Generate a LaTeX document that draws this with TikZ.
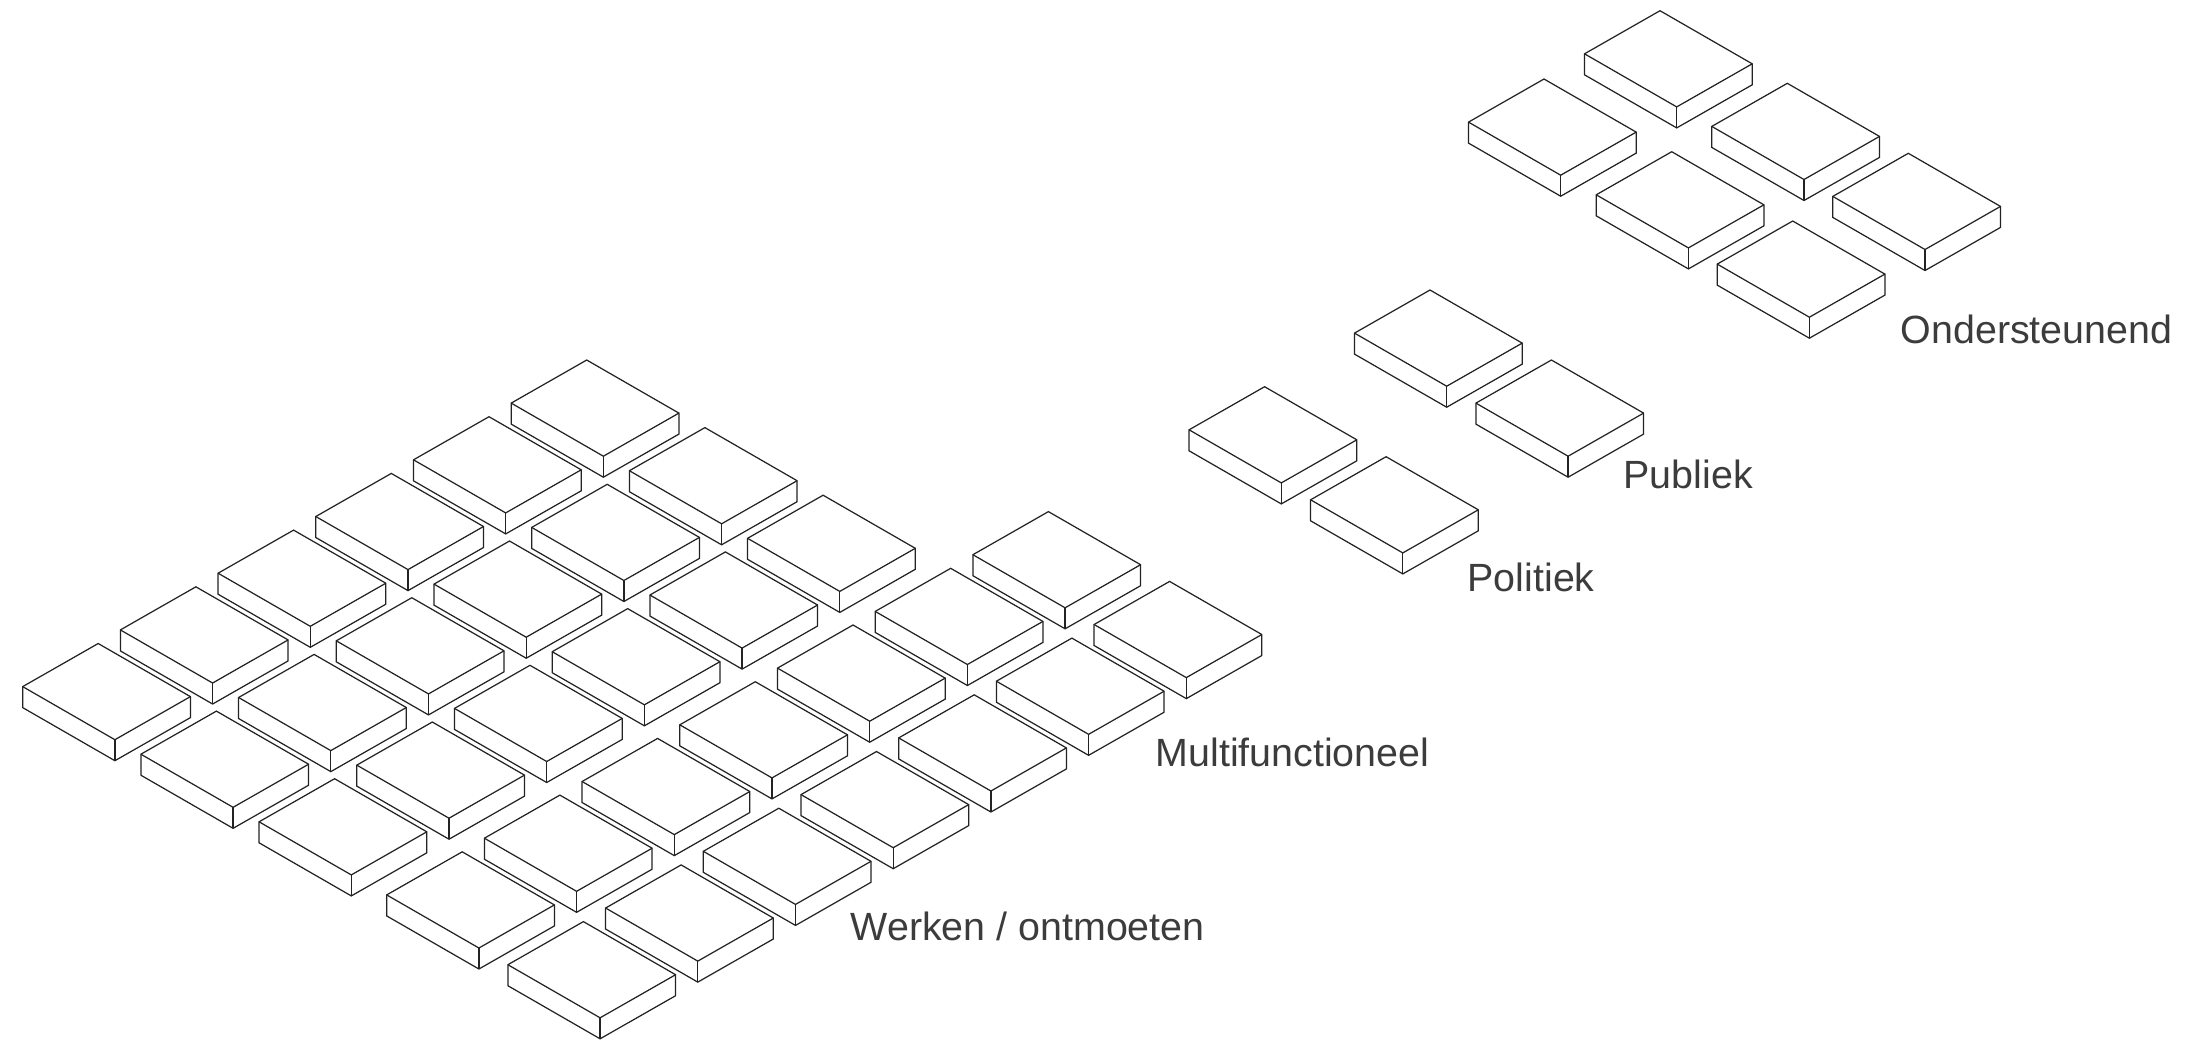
\documentclass[tikz,border=0pt]{standalone}
\usepackage{fontspec}
\setmainfont{Liberation Sans}
\usepackage{tikz}
\usetikzlibrary{positioning}
\usepackage{xcolor}
\definecolor{inkgrey}{RGB}{35,35,35}
\definecolor{textgrey}{RGB}{60,60,60}
\tikzstyle{tileline}   = [draw=inkgrey, line width=0.35pt, line join=miter, fill=white]
\tikzstyle{grouplabel} = [anchor=base west, inner sep=0pt, text=textgrey, font=\fontsize{11.2pt}{13pt}\selectfont]
\tikzset{
  tile/.pic={
    % outline, top face edges, front corner
    \filldraw[tileline] (0,0) -- ++(-75.5,43.1) -- ++(0,21) -- ++(92.2,53.1) -- ++(75.5,-43.1) -- ++(0,-21) -- cycle;
    \draw[tileline, fill=none] (-75.5,43.1) -- ++(92.2,53.1) -- ++(75.5,-43.1);
    \draw[tileline, fill=none] (16.7,96.2) -- ++(0,21);
  }
}

\begin{document}
\begin{tikzpicture}[x=0.01cm, y=-0.01cm]
    \useasboundingbox (0,0) rectangle (2211,1041);

    % Werken / ontmoeten
    \foreach \i in {0,1,2}
        \foreach \j in {0,...,5}
            \pic at ({586.7+118.2*\i-97.7*\j},{360+67.6*\i+56.7*\j}) {tile};
    % Multifunctioneel
    \foreach \i in {0,1}
        \foreach \j in {-1,...,5}
            \pic at ({950.7+121.2*\i-97.7*\j},{568.3+69.8*\i+56.7*\j}) {tile};

    % Politiek / Publiek
    \foreach \x/\y in {1430/290, 1551.4/360, 1264.6/386.7, 1386.1/456.7}
        \pic at (\x,\y) {tile};

    % Ondersteunend
    \foreach \x/\y in {1660/10.7, 1544/79, 1787.3/83.3, 1671.7/151.7, 1908.3/153.3, 1792.7/221}
        \pic at (\x,\y) {tile};

    \node (werken)    [grouplabel] at (850,940)     {Werken / ontmoeten};
    \node (multi)     [grouplabel] at (1155,766.7)  {Multifunctioneel};
    \node (politiek)  [grouplabel] at (1467,591.7)  {Politiek};
    \node (publiek)   [grouplabel] at (1623,488.3)  {Publiek};
    \node (onderst)   [grouplabel] at (1900,343.3)  {Ondersteunend};
\end{tikzpicture}
\end{document}
